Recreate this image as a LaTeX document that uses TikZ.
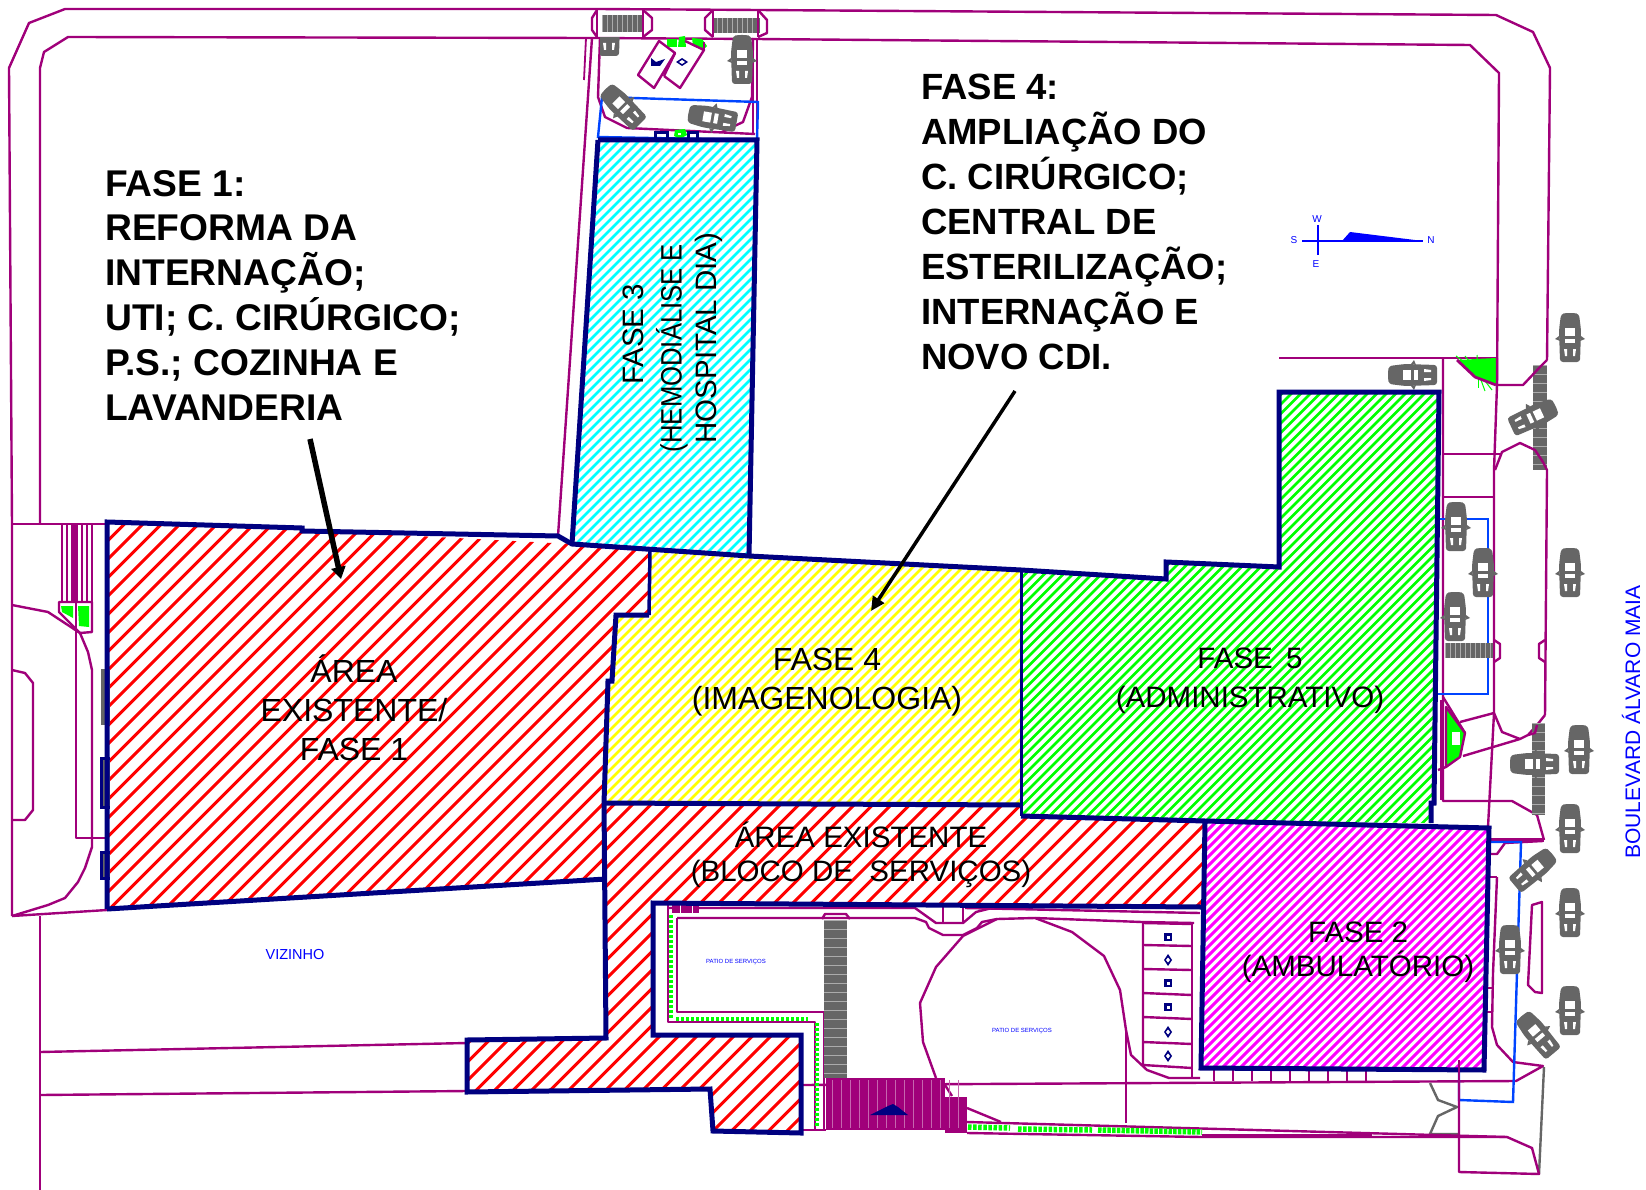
\documentclass[tikz,border=0pt]{standalone}
\usepackage{fontspec}
\setmainfont{Liberation Sans}
\usetikzlibrary{arrows.meta}
\definecolor{road}{RGB}{160,0,122}
\definecolor{navyc}{RGB}{0,0,128}
\definecolor{cargray}{RGB}{102,102,102}
\definecolor{planblue}{RGB}{0,68,255}
\definecolor{txtblue}{RGB}{0,0,255}
\definecolor{lime}{RGB}{0,255,0}
\definecolor{hred}{RGB}{255,0,0}
\definecolor{hyellow}{RGB}{255,255,0}
\definecolor{hcyan}{RGB}{0,255,255}
\definecolor{hmag}{RGB}{255,0,255}
\tikzset{
  roadl/.style={draw=road,line width=2.4pt,line join=round},
  roadt/.style={draw=road,line width=1.8pt,line join=round},
  navyl/.style={draw=navyc,line width=5pt,line join=miter},
  navyt/.style={draw=navyc,line width=3pt},
  bluel/.style={draw=planblue,line width=2.4pt},
  grayl/.style={draw=cargray,line width=2.4pt},
  lab/.style={font=\fontsize{32}{39}\selectfont,align=center,inner sep=0pt,text=black},
  labn/.style={font=\fontsize{29.5}{33.5}\selectfont,align=center,inner sep=0pt,text=black},
  boldlab/.style={font=\fontsize{36.5}{45}\selectfont\bfseries,align=left,inner sep=0pt,anchor=north west,text=black},
  small/.style={font=\fontsize{6}{7}\selectfont,text=txtblue,inner sep=0pt},
  comp/.style={font=\fontsize{10}{11}\selectfont,text=txtblue,inner sep=0pt},
}
% #1 path, #2 colour, #3 first, #4 second, #5 last offset, #6 width
\newcommand\hatchzone[6]{\begin{scope}\clip #1;
  \foreach \cc in {#3,#4,...,#5}{\draw[#2,line width=#6pt] (\cc,0) -- (0,\cc);}
\end{scope}}
\newcommand\carat[3]{\begin{scope}[shift={(#1,#2)},rotate=#3]
  \fill[cargray,rounded corners=3pt] (-9,-24) -- (-4,-25) -- (4,-25) -- (9,-24) -- (11,-8) -- (10,24) -- (-10,24) -- (-11,-8) -- cycle;
  \fill[cargray] (-11,-2) -- (-15,1) -- (-10,3) -- cycle;
  \fill[cargray] (11,-2) -- (15,1) -- (10,3) -- cycle;
  \fill[white] (-5,-10) rectangle (5,-2);
  \fill[white] (-5,1) rectangle (5,5);
  \fill[white] (-6,11) -- (-3,11) -- (-3,18) -- (-5,18) -- cycle;
  \fill[white] (6,11) -- (3,11) -- (3,18) -- (5,18) -- cycle;
\end{scope}}
\newcommand\vstair[4]{\fill[cargray] (#1,#2) rectangle (#3,#4);
  \pgfmathsetmacro{\yyb}{#2+9}\foreach \yy in {#2,\yyb,...,#4}{\draw[white!45!cargray,line width=.7pt] (#1,\yy) -- (#3,\yy);}}
\newcommand\hstairx[4]{\fill[cargray] (#1,#2) rectangle (#3,#4);
  \pgfmathsetmacro{\xxb}{#1+5}\foreach \xx in {#1,\xxb,...,#3}{\draw[white!45!cargray,line width=.7pt] (\xx,#2) -- (\xx,#4);}}
\begin{document}
\begin{tikzpicture}[x=1pt,y=-1pt]
\useasboundingbox (0,0) rectangle (1646,1190);
% hatched zones
\hatchzone{(107,522) -- (302,530) -- (572,544) -- (650,551) -- (649,615) -- (616,615) -- (612,681) -- (608,681) -- (604,803) -- (606,879) -- (107,909) -- cycle}{hred}{630}{648.5}{1520}{3}
\hatchzone{(650,551) -- (749,556) -- (1021,570) -- (1021,805) -- (604,803) -- (608,681) -- (612,681) -- (616,615) -- (649,615) -- cycle}{hyellow}{1200}{1210}{1830}{2.6}
\hatchzone{(1021,570) -- (1166,579) -- (1166,562) -- (1279,567) -- (1279,392) -- (1439,392) -- (1434,803) -- (1431,823) -- (1205,821) -- (1021,816) -- cycle}{lime}{1590}{1599.5}{2260}{2.6}
\hatchzone{(598,140) -- (757,140) -- (749,556) -- (572,544) -- cycle}{hcyan}{730}{740}{1320}{2.8}
\hatchzone{(1205,821) -- (1489,828) -- (1484,1070) -- (1201,1068) -- cycle}{hmag}{2020}{2029}{2560}{3}
\hatchzone{(606,803) -- (1021,805) -- (1021,816) -- (1205,821) -- (1201,907) -- (653,903) -- (653,1035) -- (801,1035) -- (801,1133) -- (713,1131) -- (710,1089) -- (467,1092) -- (467,1040) -- (606,1038) -- cycle}{hred}{1400}{1418.5}{2125}{3}
% site outline
\draw[roadl] (40,524) -- (40,68) -- (44,52) -- (68,37) -- (591,38);
\draw[roadl] (12,916) -- (12,524) -- (9,68) -- (29,23) -- (65,9) -- (597,9) -- (758,10) -- (1496,15) -- (1533,32) -- (1550,68) -- (1547,360);
\draw[roadl] (591,38) -- (756,39) -- (1470,45) -- (1499,73) -- (1497,385);
\draw[roadl] (12,524) -- (107,524);
\draw[roadl] (40,916) -- (40,1190);
\draw[roadl] (12,916) -- (107,910);
\draw[roadl] (40,1052) -- (467,1043);
\draw[roadl] (40,1095) -- (467,1091);
% left side
\foreach \xx in {62,67,72,77,82,87,92}{\draw[roadt] (\xx,524) -- (\xx,602);}
\draw[road,line width=4pt] (74.5,524) -- (74.5,602);
\fill[lime] (61,606) -- (73,606) -- (73,618) -- (62,612) -- cycle;
\fill[lime] (78,606) -- (89,606) -- (89,627) -- (79,626) -- cycle;
\draw[roadl] (59,602) -- (92,602) -- (92,632) -- (80,633) -- (59,612) -- cycle;
\draw[roadl] (76,602) -- (76,838) -- (107,838);
\draw[roadl] (12,605) -- (48,612) -- (80,633) -- (88,652) -- (92,670) -- (92,847) -- (85,868) -- (78,882) -- (65,898) -- (48,905) -- (12,916);
\draw[roadl] (12,670) -- (25,673) -- (33,683) -- (33,810) -- (25,820) -- (12,820);
\fill[cargray] (101,669) rectangle (110,725);
\fill[cargray] (101,758) rectangle (110,807);
\fill[cargray] (101,852) rectangle (110,878);
\draw[navyt] (110,758) -- (101,758) -- (101,807) -- (110,807);
\draw[navyt] (110,852) -- (101,852) -- (101,878) -- (110,878);
% top courtyard
\draw[roadl] (592,38) -- (558,536);
\draw[roadt] (586,38) -- (584,80);
\draw[roadl] (600,38) -- (598,97) -- (605,117) -- (627,128) -- (755,134);
\draw[roadl] (753,38) -- (752,97) -- (743,122) -- (722,132);
\draw[roadl] (753,38) -- (753,134);
\draw[roadl] (757,38) -- (757,134);
\fill[lime] (667,39) rectangle (677,47);
\fill[lime] (679,37) -- (685,36) -- (686,47) -- (678,47) -- cycle;
\fill[lime] (692,38) -- (702,39) -- (707,46) -- (703,50) -- (693,46) -- cycle;
\draw[roadl] (659,41) -- (638,75) -- (654,88) -- (675,53) -- cycle;
\draw[roadl] (685,41) -- (704,50) -- (680,88) -- (664,76);
\draw[roadl] (664,76) -- (675,53);
\draw[roadl] (704,42) -- (704,50);
\fill[navyc] (651,58) -- (656,62) -- (665,59) -- (660,66) -- (651,66) -- cycle;
\fill[navyc] (682,58) -- (688,62) -- (682,66) -- (676,62) -- cycle;
\fill[white] (682,60) -- (685,62) -- (682,64) -- (679,62) -- cycle;
\hstairx{602}{15}{643}{32}
\hstairx{712}{18}{760}{33}
\draw[roadl] (597,10) -- (592,18) -- (592,30) -- (597,37);
\draw[roadl] (643,10) -- (652,18) -- (652,30) -- (643,37);
\draw[roadl] (713,10) -- (705,18) -- (705,30) -- (713,37);
\draw[roadl] (758,10) -- (767,20) -- (767,33) -- (758,37);
\draw[roadt] (597,9) -- (597,37); \draw[roadt] (643,9) -- (643,37);
\draw[roadt] (713,10) -- (713,37); \draw[roadt] (758,10) -- (758,37);
\draw[bluel] (602,97) -- (758,102) -- (757,140) -- (598,137) -- cycle;
\fill[lime] (675,130) -- (685,129) -- (687,135) -- (680,139) -- (674,136) -- cycle;
\fill[white] (678,133) rectangle (681,135);
\draw[navyt] (655,139) -- (655,133) -- (667,133) -- (667,139);
\draw[navyt] (688,139) -- (688,133) -- (697,133) -- (697,139);
\carat{623}{107}{45}
\carat{713}{118}{80}
\carat{742}{60}{0}
\begin{scope}
\clip (600,38) rectangle (620,56);
\carat{609}{32}{0}
\end{scope}
% right side
\draw[roadl] (1279,358) -- (1497,358);
\draw[roadl] (1443,358) -- (1443,801) -- (1512,801) -- (1537,815) -- (1544,840);
\draw[road,line width=3.5pt] (1488,840) -- (1544,840);
\fill[lime] (1457,360) -- (1496,358) -- (1496,385) -- (1475,377) -- cycle;
\foreach \aa/\bb in {1456/356,1465/356,1477/355,1478/388,1485/391,1492/390}{\draw[lime,line width=1pt] (1478,372) -- (\aa,\bb);}
\draw[road,line width=2.8pt] (1457,360) -- (1475,377) -- (1496,385);
\draw[roadl] (1443,454) -- (1500,454);
\draw[roadl] (1443,497) -- (1494,497);
\draw[roadl] (1497,358) -- (1497,385) -- (1494,470) -- (1494,713) -- (1488,827);
\vstair{1533}{365}{1547}{470}
\draw[roadl] (1496,385) -- (1523,385) -- (1540,367) -- (1547,360);
\draw[roadl] (1495,470) -- (1502,452) -- (1520,443) -- (1535,450) -- (1543,462) -- (1547,470) -- (1545,715);
\draw[bluel,line width=2.8pt] (1438,519) -- (1488,519) -- (1488,694) -- (1438,694);
\hstairx{1445}{643}{1493}{658}
\draw[roadl] (1494,640) -- (1500,644) -- (1500,658) -- (1494,662);
\draw[roadl] (1545,640) -- (1539,644) -- (1539,658) -- (1545,662);
\fill[lime] (1446,707) -- (1465,733) -- (1460,757) -- (1446,767) -- cycle;
\fill[white] (1452,732) rectangle (1460,745);
\draw[roadl] (1446,707) -- (1465,733) -- (1460,757) -- (1446,767) -- cycle;
\draw[roadl] (1443,697) -- (1465,733);
\draw[roadl] (1438,770) -- (1446,767);
\draw[roadl] (1460,722) -- (1494,713) -- (1502,732) -- (1520,739) -- (1463,756);
\draw[roadl] (1520,739) -- (1528,735) -- (1537,725) -- (1545,715);
\vstair{1532}{723}{1545}{815}
\draw[roadl] (1528,735) -- (1535,733) -- (1537,725);
\draw[roadl] (1488,854) -- (1497,854) -- (1505,843) -- (1543,841);
% bottom right
\draw[roadl] (1497,877) -- (1490,877);
\draw[roadl] (1497,877) -- (1493,973) -- (1492,1027) -- (1497,1045) -- (1513,1062) -- (1543,1066) -- (1516,1081) -- (801,1085);
\draw[roadl] (1532,905) -- (1542,902) -- (1542,993) -- (1535,992) -- (1528,985) -- cycle;
\draw[roadl] (1487,988) -- (1492,988);
\draw[roadl] (1487,1012) -- (1491,1012);
\foreach \xx in {1214,1233,...,1370}{\draw[roadt] (\xx,1070) -- (\xx,1081);}
\draw[bluel] (1488,842) -- (1521,842) -- (1513,1102) -- (1459,1100) -- (1459,1070);
\draw[grayl] (1430,1083) -- (1438,1100) -- (1457,1107) -- (1438,1116) -- (1430,1134) -- (1459,1134);
\draw[grayl] (1539,1174) -- (1544,1067);
\draw[roadl] (1459,1081) -- (1459,1172) -- (1539,1174) -- (1532,1148) -- (1507,1137) -- (967,1122);
\draw[roadl] (967,1133) -- (1202,1137) -- (1507,1137);
\draw[road,line width=4pt] (1202,1136) -- (1372,1136);
% service block
\draw[roadl] (668,905) -- (668,1022) -- (815,1022) -- (815,1130);
\draw[roadl] (677,918) -- (677,1012) -- (824,1012) -- (824,1130);
\draw[roadl] (668,908) -- (915,908) -- (936,923) -- (963,923) -- (976,912) -- (992,908);
\draw[roadl] (943,906) rectangle (963,923);
\draw[roadl] (965,908) -- (1200,913);
\draw[roadl] (677,918) -- (915,918) -- (926,922) -- (929,928) -- (943,935) -- (963,935) -- (977,928) -- (982,922) -- (997,919) -- (1035,918) -- (1142,922) -- (1194,923);
\fill[road] (672,905) rectangle (699,913);
\foreach \xx in {680,692}{\draw[white,line width=1pt] (\xx,905) -- (\xx,913);}
\draw[lime,line width=4pt,dash pattern=on 3pt off 2pt] (671,915) -- (671,1018);
\draw[lime,line width=4pt,dash pattern=on 3pt off 2pt] (676,1019) -- (808,1019);
\draw[lime,line width=4pt,dash pattern=on 3pt off 2pt] (817,1023) -- (817,1127);
\vstair{824}{920}{847}{1078}
\draw[roadl] (822,919) -- (825,914) -- (846,914) -- (850,919);
\draw[roadl] (963,936) -- (997,919);
\draw[roadl] (936,1078) -- (923,1042) -- (920,1003) -- (936,967) -- (963,936);
\draw[roadl] (1035,918) -- (1072,932) -- (1104,956) -- (1120,990) -- (1126,1030) -- (1131,1055) -- (1147,1070) -- (1169,1078) -- (1200,1078);
\draw[roadl] (1126,1030) -- (1126,1123);
\draw[roadl] (967,1108) -- (1001,1122);
\draw[roadl] (945,1085) -- (952,1096);
% car park
\draw[roadl] (1143,923) -- (1143,1065) -- (1192,1068);
\draw[roadl] (1143,923) -- (1192,924);
\foreach \ya/\yb in {945/946,969/970,993/995,1017/1019,1042/1044}{\draw[roadl] (1143,\ya) -- (1192,\yb);}
\draw[roadl] (1192,923) -- (1192,1078);
\foreach \yy in {937,983,1007}{\fill[navyc] (1164,\yy-4) rectangle (1172,\yy+4); \fill[white] (1166.5,\yy-1.5) rectangle (1169.5,\yy+1.5);}
\foreach \yy in {960,1032,1056}{\fill[navyc] (1168,\yy-6) -- (1172,\yy) -- (1168,\yy+6) -- (1164,\yy) -- cycle; \fill[white] (1168,\yy-2.5) -- (1170,\yy) -- (1168,\yy+2.5) -- (1166,\yy) -- cycle;}
% ramp
\fill[road] (826,1078) rectangle (945,1130);
\fill[road] (945,1097) rectangle (967,1133);
\foreach \xx in {832,841,...,964}{\draw[white!40!road,line width=.6pt] (\xx,1080) -- (\xx,1128);}
\fill[navyc] (870,1115) -- (888,1106) -- (893,1104) -- (898,1107) -- (908,1115) -- cycle;
\draw[roadt] (801,1130) -- (826,1130);
\draw[lime,line width=5.5pt,dash pattern=on 3.5pt off 1.6pt] (968,1127) -- (1010,1128);
\draw[lime,line width=5.5pt,dash pattern=on 3.5pt off 1.6pt] (1018,1129) -- (1092,1130);
\draw[lime,line width=5.5pt,dash pattern=on 3.5pt off 1.2pt] (1098,1130) -- (1202,1132);
% cars
\carat{1570}{338}{0}
\carat{1413}{375}{90}
\carat{1533}{417}{-65}
\carat{1456}{527}{0}
\carat{1483}{573}{0}
\carat{1455}{617}{0}
\carat{1570}{573}{0}
\carat{1579}{750}{0}
\carat{1535}{764}{90}
\carat{1570}{829}{0}
\carat{1533}{870}{-50}
\carat{1570}{913}{0}
\carat{1510}{950}{0}
\carat{1570}{1011}{0}
\carat{1538}{1035}{40}
% navy boundaries
\draw[navyl] (107,909) -- (107,522) -- (302,528) -- (302,531) -- (558,536) -- (572,544) -- (749,556) -- (1021,570) -- (1166,579) -- (1166,562) -- (1279,567) -- (1279,392) -- (1439,392) -- (1434,803) -- (1431,803) -- (1431,823);
\draw[navyl] (598,140) -- (757,140) -- (749,556);
\draw[navyl] (598,140) -- (572,544);
\draw[navyl] (107,909) -- (606,879);
\draw[navyc,line width=3.5pt] (650,551) -- (649,615);
\draw[navyl] (649,615) -- (616,615) -- (612,681) -- (608,681) -- (604,803) -- (606,1038) -- (467,1040) -- (467,1092) -- (710,1089) -- (713,1131) -- (801,1133) -- (801,1035) -- (653,1035) -- (653,903) -- (1201,907);
\draw[navyt] (1021,570) -- (1021,816);
\draw[navyl] (604,803) -- (1021,805);
\draw[navyl] (1021,816) -- (1205,821) -- (1489,828) -- (1484,1070) -- (1201,1068) -- (1205,821);
\draw[road,line width=1.5pt] (1441,700) -- (1441,800);
\draw[roadl] (1459,1060) -- (1459,1081);
% compass
\draw[txtblue,line width=1.5pt] (1302,241) -- (1423,241);
\draw[txtblue,line width=1.5pt] (1318,225) -- (1318,255);
\fill[txtblue] (1342,241) -- (1350,232) -- (1423,241) -- cycle;
\node[comp] (cS) at (1294,240) {S};
\node[comp] (cN) at (1431,240) {N};
\node[comp] (cW) at (1317,219) {W};
\node[comp] (cE) at (1316,264) {E};
% texts
\node[boldlab,font=\fontsize{37.2}{44.8}\selectfont\bfseries] (f1) at (105,170) {FASE 1:\\REFORMA DA\\INTERNAÇÃO;\\UTI; C. CIRÚRGICO;\\P.S.; COZINHA E\\LAVANDERIA};
\node[boldlab] (f4b) at (921,74) {FASE 4:\\AMPLIAÇÃO DO\\C. CIRÚRGICO;\\CENTRAL DE\\ESTERILIZAÇÃO;\\INTERNAÇÃO E\\NOVO CDI.};
\node[labn,rotate=90] (f3a) at (633,334) {FASE 3};
\node[labn,rotate=90] (f3b) at (672,348) {\scalebox{.87}[1]{(HEMODIÁLISE E}};
\node[labn,rotate=90] (f3c) at (709,338) {HOSPITAL DIA)};
\node[lab] (f4) at (827,682) {FASE 4\\(IMAGENOLOGIA)};
\node[labn,font=\fontsize{29.5}{39}\selectfont] (f5) at (1250,681) {FASE\hspace{.45em}5\hspace{28pt}\\(ADMINISTRATIVO)};
\node[lab] (fe) at (354,708) {ÁREA\\EXISTENTE/\\FASE 1};
\node[labn] (fb) at (861,855) {ÁREA EXISTENTE\\(BLOCO DE\ \ SERVIÇOS)};
\node[labn] (f2) at (1358,952) {FASE 2\\(AMBULATÓRIO)};
\node[font=\fontsize{21}{24}\selectfont,text=txtblue,rotate=90,inner sep=0pt] (bv) at (1631,722) {BOULEVARD ÁLVARO MAIA};
\node[font=\fontsize{14.5}{16}\selectfont,text=txtblue,inner sep=0pt] (vz) at (295,954) {VIZINHO};
\node[small] (p1) at (736,962) {PATIO DE SERVIÇOS};
\node[small] (p2) at (1022,1031) {PATIO DE SERVIÇOS};
% arrows
\coordinate (a1s) at (310,439);
\coordinate (a1e) at (341,579);
\coordinate (a2s) at (1015,391);
\coordinate (a2e) at (871,611);
\draw[line width=5.5pt,-{Triangle[length=12pt,width=14pt]}] (a1s) -- (a1e);
\draw[line width=3.5pt,-{Triangle[length=14pt,width=13pt]}] (a2s) -- (a2e);
\end{tikzpicture}
\end{document}
